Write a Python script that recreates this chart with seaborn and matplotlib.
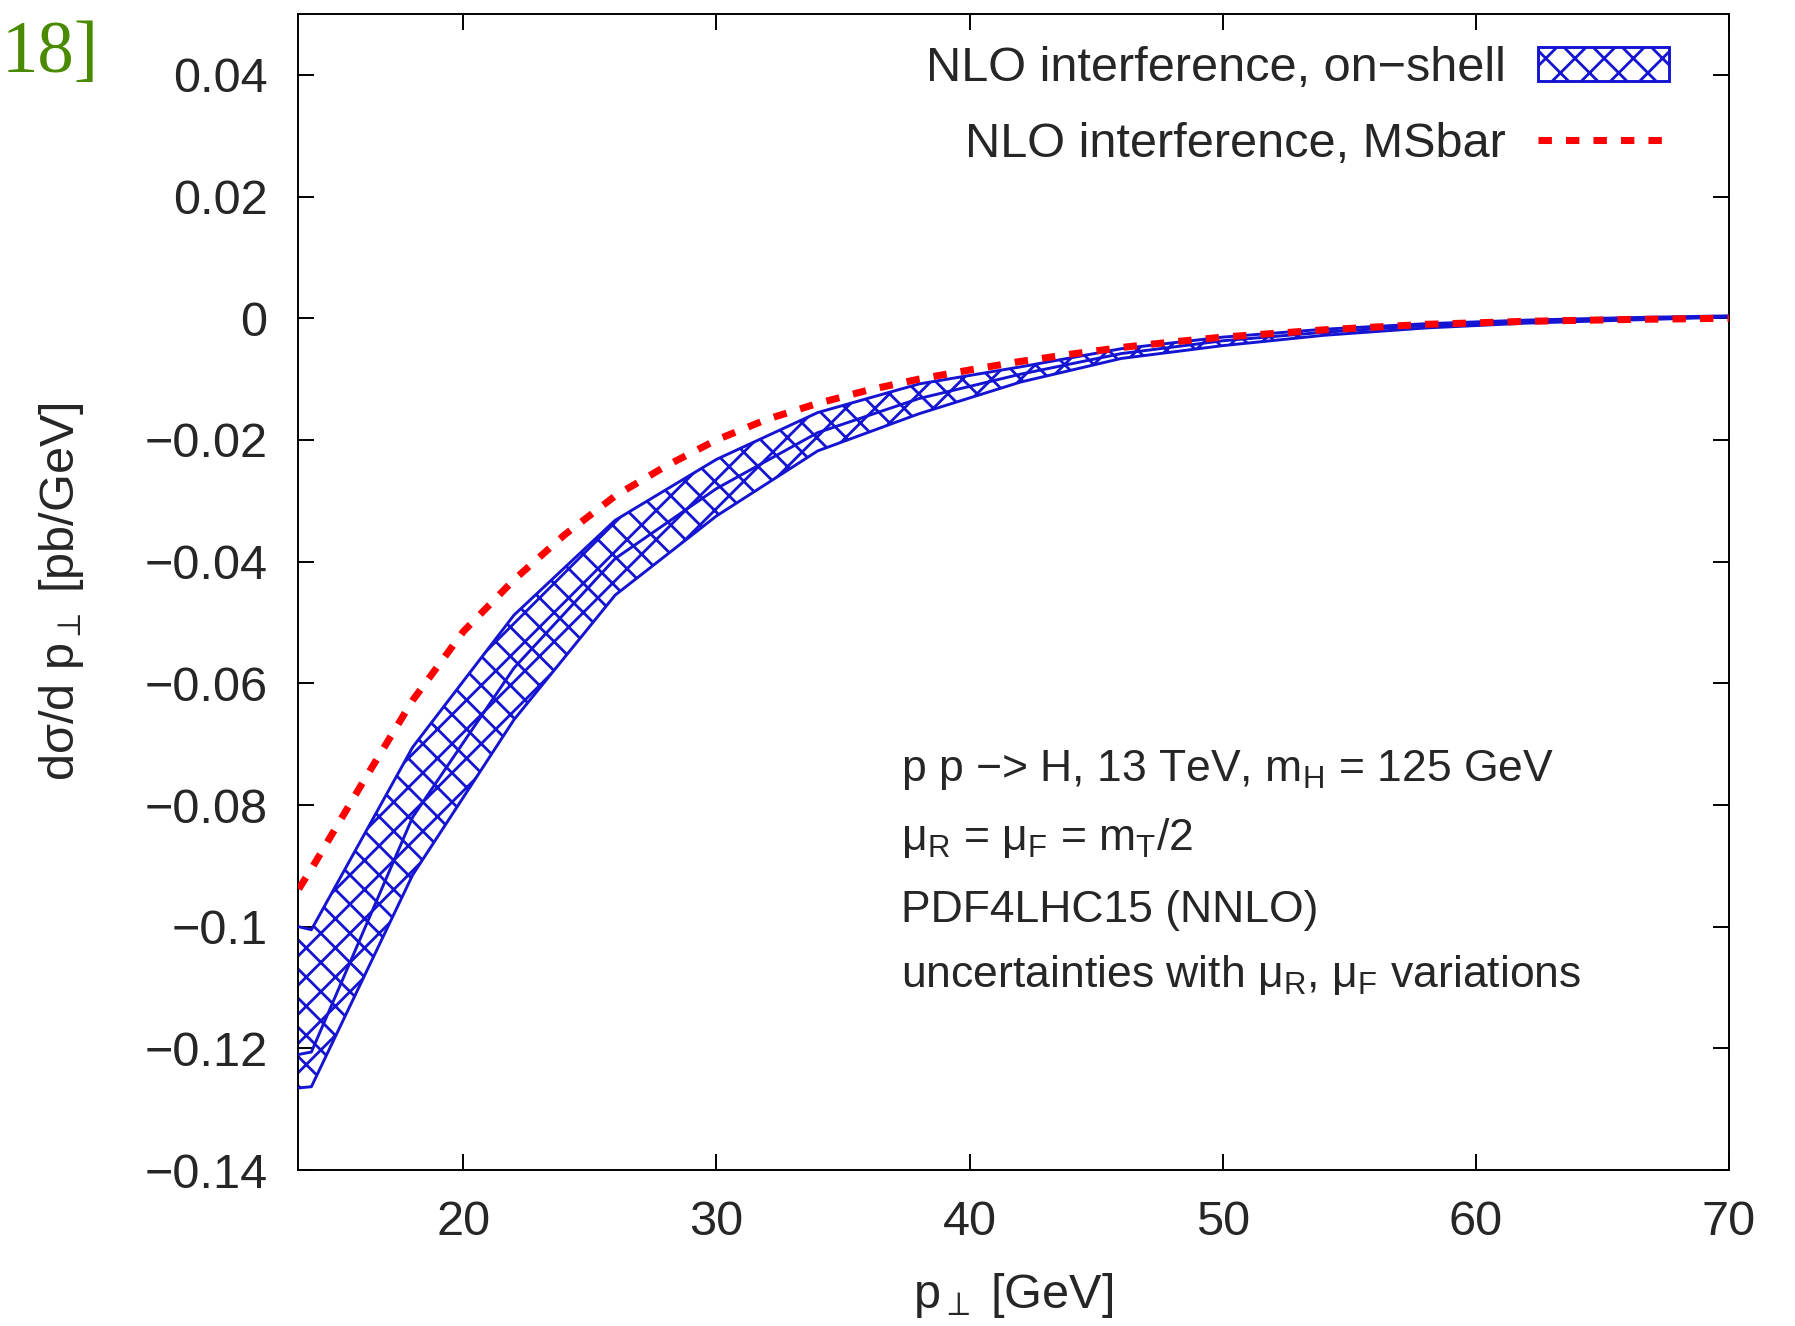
import numpy as np
import pandas as pd
import matplotlib
matplotlib.use("Agg")
import matplotlib.pyplot as plt
import seaborn as sns
from matplotlib.patches import Patch
from matplotlib.lines import Line2D

# ---------------- data ----------------
pt_band = [13.5, 14, 18, 22, 26, 30, 34, 38, 42, 46, 50, 54, 58, 62, 66, 70]
band_upper = [-0.1000, -0.1005, -0.0705, -0.0488, -0.0332, -0.0232, -0.0155, -0.0108,
              -0.0080, -0.0050, -0.0031, -0.0018, -0.0009, -0.0003, 0.0001, 0.0004]
band_lower = [-0.1265, -0.1263, -0.0915, -0.0660, -0.0455, -0.0325, -0.0218, -0.0157,
              -0.0105, -0.0066, -0.0045, -0.0028, -0.0016, -0.0008, -0.0003, 0.0002]
band_central = [-0.1210, -0.1206, -0.0820, -0.0575, -0.0395, -0.0280, -0.0188, -0.0132,
                -0.0092, -0.0058, -0.0037, -0.0023, -0.0012, -0.0005, -0.0001, 0.0003]

pt_msbar = [13.5, 14, 16, 18, 20, 22, 24, 26, 28, 30, 32, 34, 36, 38, 40, 42, 44, 46,
            48, 50, 54, 58, 62, 66, 70]
msbar = [-0.0938, -0.0905, -0.0765, -0.0628, -0.0515, -0.0430, -0.0356, -0.0292,
         -0.0243, -0.0200, -0.0166, -0.0140, -0.0118, -0.0100, -0.0085, -0.0071,
         -0.0059, -0.0048, -0.0039, -0.0031, -0.0019, -0.0010, -0.0005, -0.0002, 0.0]

xticks = [20, 30, 40, 50, 60, 70]
yticks = [0.04, 0.02, 0, -0.02, -0.04, -0.06, -0.08, -0.1, -0.12, -0.14]
ytick_labels = ["0.04", "0.02", "0", "\u22120.02", "\u22120.04", "\u22120.06",
                "\u22120.08", "\u22120.1", "\u22120.12", "\u22120.14"]
legend_labels = ["NLO interference, on\u2212shell", "NLO interference, MSbar"]
annot_lines = [
    "p p \u2212> H, 13 TeV, m$_\\mathrm{H}$ = 125 GeV",
    "\u03bc$_\\mathrm{R}$ = \u03bc$_\\mathrm{F}$ = m$_\\mathrm{T}$/2",
    "PDF4LHC15 (NNLO)",
    "uncertainties with \u03bc$_\\mathrm{R}$, \u03bc$_\\mathrm{F}$ variations",
]

# ---------------- style ----------------
sns.set_style("ticks")
plt.rcParams["font.family"] = ["Liberation Sans", "DejaVu Sans"]
plt.rcParams["mathtext.fontset"] = "custom"
plt.rcParams["mathtext.rm"] = "Liberation Sans"
plt.rcParams["mathtext.it"] = "Liberation Sans:italic"
plt.rcParams["mathtext.sf"] = "Liberation Sans"
plt.rcParams["hatch.linewidth"] = 1.15

BLUE = "#1414d2"
RED = "#ff0000"
FS = 20

DPI = 175
fig = plt.figure(figsize=(1795 / DPI, 1326 / DPI), dpi=DPI)
ax = fig.add_axes([0.1660, 0.1176, 0.7972, 0.8718])

band_df = pd.DataFrame({"pt": pt_band, "upper": band_upper,
                        "lower": band_lower, "central": band_central})
ms_df = pd.DataFrame({"pt": pt_msbar, "y": msbar})

# hatched band
ax.fill_between(band_df["pt"], band_df["lower"], band_df["upper"],
                facecolor="none", edgecolor=BLUE, hatch="xx", linewidth=0, zorder=2)
for col in ["upper", "lower", "central"]:
    sns.lineplot(data=band_df, x="pt", y=col, ax=ax, color=BLUE, lw=1.2,
                 estimator=None, sort=False, zorder=3)

# MSbar dashed line
sns.lineplot(data=ms_df, x="pt", y="y", ax=ax, color=RED, lw=2.9,
             estimator=None, sort=False, zorder=4, dashes=False)
ax.lines[-1].set_dashes((1.9, 2.0))

ax.set_xlim(13.47, 70)
ax.set_ylim(-0.14, 0.05)
ax.set_xticks(xticks)
ax.set_xticklabels([str(t) for t in xticks])
ax.set_yticks(yticks)
ax.set_yticklabels(ytick_labels)
ax.tick_params(axis="both", direction="in", length=6.6, width=0.8,
               top=True, right=True, labelsize=FS, color="black")
ax.tick_params(axis="x", pad=12.5)
ax.tick_params(axis="y", pad=12.5)
for s in ax.spines.values():
    s.set_linewidth(0.8)
    s.set_color("black")
    s.set_visible(True)

ax.set_xlabel("p$_\\perp$ [GeV]", fontsize=FS, labelpad=10.5)
ax.set_ylabel("d\u03c3/d p$_\\perp$ [pb/GeV]", fontsize=FS, labelpad=24)

handles = [Patch(facecolor="none", edgecolor=BLUE, hatch="xx", linewidth=1.2),
           Line2D([], [], color=RED, lw=2.9, dashes=(1.9, 2.0))]
ax.legend(handles, legend_labels, loc="upper right", bbox_to_anchor=(0.958, 0.972),
          frameon=False, markerfirst=False, handlelength=2.7, handletextpad=0.65,
          labelspacing=0.62, borderpad=0, borderaxespad=0, fontsize=FS)

ys = [0.3366, 0.2772, 0.2149, 0.1584]
for t, y in zip(annot_lines, ys):
    ax.text(0.4216, y, t, transform=ax.transAxes, fontsize=18.3, ha="left", va="baseline")

fig.text(0.001, 0.946, "18]", color="#4a8a00", fontsize=30,
         family="Liberation Serif", ha="left", va="baseline")

fig.savefig("out.png", dpi=DPI)
